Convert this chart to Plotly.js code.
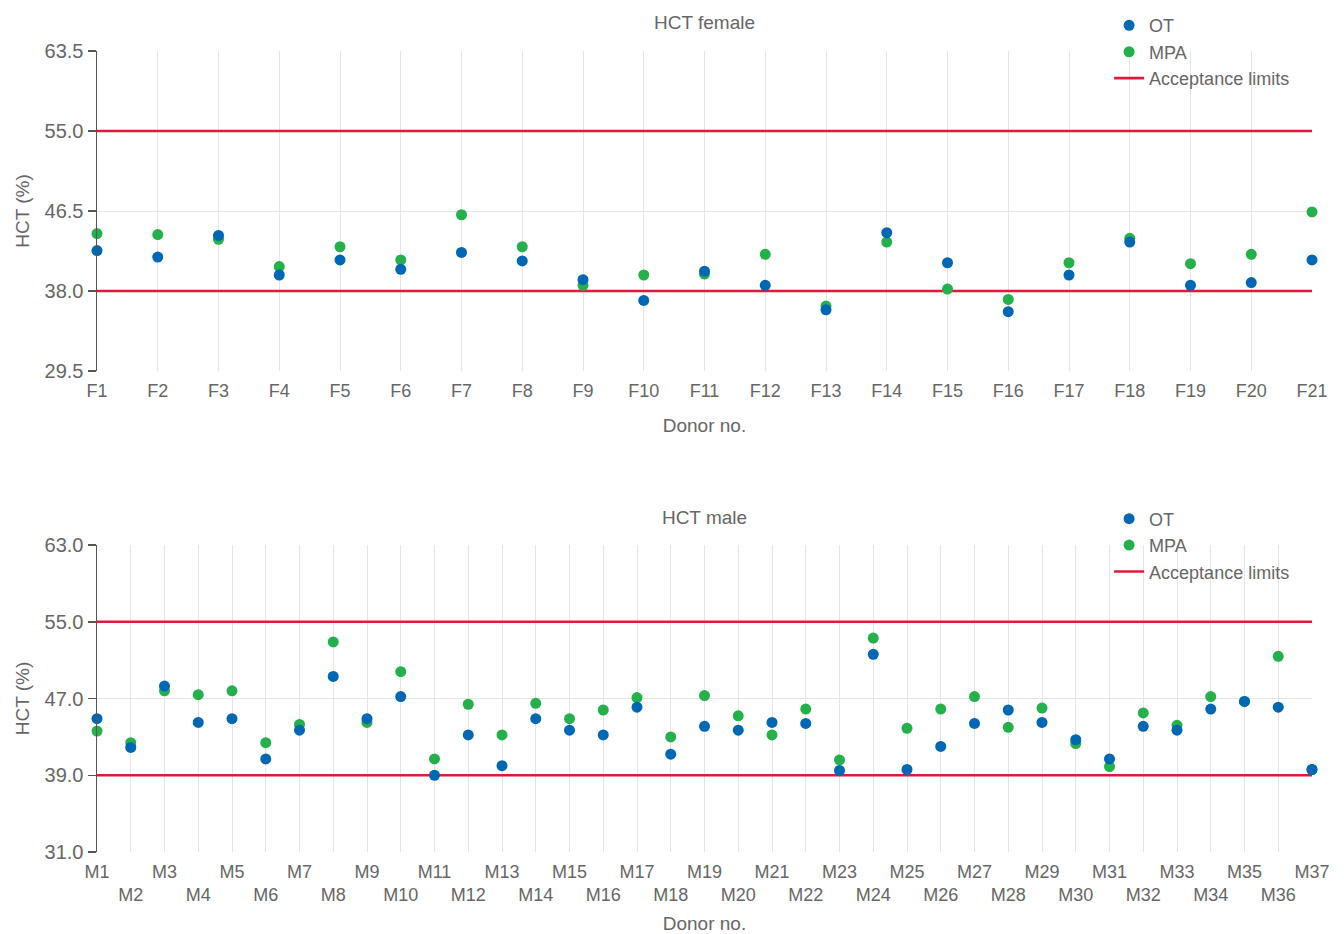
<!DOCTYPE html>
<html>
<head>
<meta charset="utf-8">
<script src="https://cdn.plot.ly/plotly-3.0.1.min.js"></script>
<style>
html,body{margin:0;padding:0;background:#fff;}
#top,#bottom{width:1344px;height:467px;}
</style>
</head>
<body>
<div id="top"></div>
<div id="bottom"></div>
<script>
// ---------- DATA ----------
const femaleDonors = ['F1','F2','F3','F4','F5','F6','F7','F8','F9','F10','F11','F12','F13','F14','F15','F16','F17','F18','F19','F20','F21'];
const femaleOT  = [42.3,41.6,43.9,39.7,41.3,40.3,42.1,41.2,39.2,37.0,40.1,38.6,36.0,44.2,41.0,35.8,39.7,43.2,38.6,38.9,41.3];
const femaleMPA = [44.1,44.0,43.5,40.6,42.7,41.3,46.1,42.7,38.6,39.7,39.8,41.9,36.4,43.2,38.2,37.1,41.0,43.6,40.9,41.9,46.4];
const femaleLimits = [38.0, 55.0];
const femaleTicks = [29.5, 38.0, 46.5, 55.0, 63.5];

const maleDonors = ['M1','M2','M3','M4','M5','M6','M7','M8','M9','M10','M11','M12','M13','M14','M15','M16','M17','M18','M19','M20','M21','M22','M23','M24','M25','M26','M27','M28','M29','M30','M31','M32','M33','M34','M35','M36','M37'];
const maleOT  = [44.9,41.9,48.3,44.5,44.9,40.7,43.7,49.3,44.9,47.2,39.0,43.2,40.0,44.9,43.7,43.2,46.1,41.2,44.1,43.7,44.5,44.4,39.5,51.6,39.6,42.0,44.4,45.8,44.5,42.7,40.7,44.1,43.7,45.9,46.7,46.1,39.6];
const maleMPA = [43.6,42.4,47.8,47.4,47.8,42.4,44.3,52.9,44.5,49.8,40.7,46.4,43.2,46.5,44.9,45.8,47.1,43.0,47.3,45.2,43.2,45.9,40.6,53.3,43.9,45.9,47.2,44.0,46.0,42.3,39.9,45.5,44.2,47.2,46.7,51.4,39.6];
const maleLimits = [39.0, 55.0];
const maleTicks = [31.0, 39.0, 47.0, 55.0, 63.0];

// ---------- STYLE ----------
const BLUE = '#0067b5', GREEN = '#24b04b', RED = '#e0193a';
const TXT = '#666666';
const FONT = 'Liberation Sans, Arial, sans-serif';

function makeChart(div, title, cats, ot, mpa, limits, ticks, opts) {
  const first = cats[0], last = cats[cats.length - 1];
  const limX = [], limY = [];
  limits.forEach((v, i) => { if (i) { limX.push(null); limY.push(null); } limX.push(first, last); limY.push(v, v); });
  const traces = [
    {x: limX, y: limY, type: 'scatter', mode: 'lines', name: 'Acceptance limits',
     line: {color: RED, width: 2.6}, connectgaps: false, cliponaxis: false},
    {x: cats, y: mpa, type: 'scatter', mode: 'markers', name: 'MPA',
     marker: {color: GREEN, size: 11}, cliponaxis: false},
    {x: cats, y: ot, type: 'scatter', mode: 'markers', name: 'OT',
     marker: {color: BLUE, size: 11}, cliponaxis: false}
  ];
  const ticktext = opts.stagger ? cats.map((c, i) => (i % 2 ? '<br>' + c : c)) : cats;
  const layout = {
    width: 1344, height: 467,
    margin: {l: 97, r: 32, t: opts.t, b: opts.b, autoexpand: false},
    paper_bgcolor: '#fff', plot_bgcolor: '#fff',
    font: {family: FONT, color: TXT, size: 18},
    title: {text: title, x: 0.5, xref: 'paper', y: opts.titleY, yref: 'container', yanchor: 'middle',
            font: {family: FONT, size: 19, color: TXT}},
    showlegend: true,
    legend: {x: opts.legX, y: opts.legY, xanchor: 'left', yanchor: 'top', traceorder: 'reversed',
             bgcolor: 'rgba(0,0,0,0)', font: {family: FONT, size: 18, color: TXT}, tracegroupgap: 0},
    xaxis: {type: 'category', categoryorder: 'array', categoryarray: cats,
            range: [0, cats.length - 1], showgrid: true, gridcolor: '#e5e5e5', gridwidth: 1,
            showline: false, zeroline: false, ticks: '', tickvals: cats, ticktext: ticktext,
            tickangle: 0, ticklabelstandoff: opts.labStand,
            tickfont: {family: FONT, size: 18, color: TXT},
            title: {text: 'Donor no.', font: {family: FONT, size: 19, color: TXT}, standoff: opts.xstand}},
    yaxis: {range: [ticks[0], ticks[ticks.length - 1]], tickvals: ticks, tickformat: '.1f',
            showgrid: true, gridcolor: '#e5e5e5', zeroline: false,
            showline: true, linecolor: '#555', linewidth: 1.5,
            ticks: 'outside', ticklen: 8, tickcolor: '#555', tickwidth: 1.5,
            tickfont: {family: FONT, size: 20, color: TXT},
            title: {text: 'HCT (%)', font: {family: FONT, size: 19, color: TXT}, standoff: 10}}
  };
  Plotly.newPlot(div, traces, layout, {displayModeBar: false, staticPlot: true});
}

makeChart('top', 'HCT female', femaleDonors, femaleOT, femaleMPA, femaleLimits, femaleTicks,
  {t: 51, b: 96, titleY: 1 - 22/467, legX: 0.833, legY: 1.137, stagger: false, xstand: 18, labStand: 7});
makeChart('bottom', 'HCT male', maleDonors, maleOT, maleMPA, maleLimits, maleTicks,
  {t: 78, b: 82, titleY: 1 - 50/467, legX: 0.833, legY: 1.145, stagger: true, xstand: 14, labStand: 7});
</script>
</body>
</html>
